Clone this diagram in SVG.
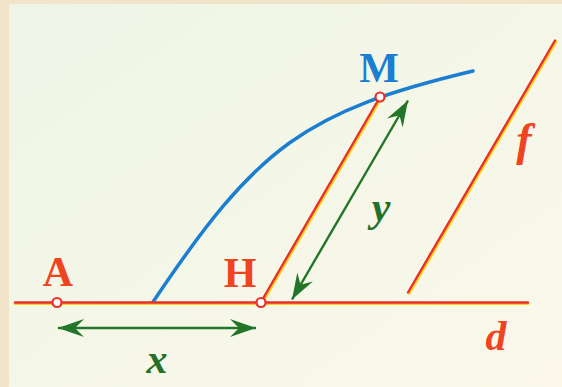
<svg xmlns="http://www.w3.org/2000/svg" width="562" height="387" viewBox="0 0 562 387">
  <defs>
    <linearGradient id="bg" x1="0" y1="0" x2="1" y2="1">
      <stop offset="0" stop-color="#EEF5E6"/>
      <stop offset="1" stop-color="#FBF8EA"/>
    </linearGradient>
    <marker id="ah" viewBox="-28 -10 30 20" markerWidth="30" markerHeight="20" refX="0" refY="0" markerUnits="userSpaceOnUse" orient="auto-start-reverse">
      <path d="M0,0 L-26,-9 L-17,0 L-26,9 Z" fill="#23752A"/>
    </marker>
    <style>
      .red { fill: none; stroke: #E8302A; stroke-width: 2.4; stroke-linecap: round; }
      .yel { fill: none; stroke: #F6D21E; stroke-width: 2.4; stroke-linecap: round; }
      .blue { fill: none; stroke: #1C7ED0; stroke-width: 3.5; stroke-linecap: round; }
      .grn { fill: none; stroke: #23752A; stroke-width: 2.4; }
      .pt { fill: #FFFFFF; stroke: #E8302A; stroke-width: 2.2; }
      .lbl { font-family: "Liberation Serif", "Times New Roman", serif; font-weight: bold; font-size: 42px; text-anchor: middle; }
      .it { font-style: italic; }
      .r { fill: #EE4420; }
      .b { fill: #1C7ED0; }
      .g { fill: #23702A; }
    </style>
  </defs>
  <rect x="0" y="0" width="562" height="387" fill="#F2E4C8"/>
  <rect x="9" y="4" width="553" height="383" fill="url(#bg)"/>

  <g id="curve">
    <path class="blue" d="M153,302 C257.5,146 305.5,111 473,71"/>
  </g>

  <g id="line-d">
    <line class="yel" x1="15" y1="303.8" x2="528" y2="303.8"/>
    <line class="red" x1="15" y1="302.5" x2="528" y2="302.5"/>
    <text class="lbl it r" x="496" y="350">d</text>
  </g>

  <g id="line-f">
    <line class="yel" x1="409.5" y1="293.5" x2="556.5" y2="41.5"/>
    <line class="red" x1="408" y1="292.5" x2="555" y2="40.5"/>
    <text class="lbl it r" x="524" y="155" style="font-size:46px">f</text>
  </g>

  <g id="segment-HM">
    <line class="yel" x1="262.5" y1="303" x2="381.5" y2="98"/>
    <line class="red" x1="261" y1="302" x2="380" y2="97"/>
  </g>

  <g id="connectors">
    <line class="grn" x1="58" y1="328" x2="256" y2="328" marker-start="url(#ah)" marker-end="url(#ah)"/>
    <line class="grn" x1="292" y1="299.5" x2="408" y2="100.5" marker-start="url(#ah)" marker-end="url(#ah)"/>
  </g>

  <g id="point-A">
    <circle class="pt" cx="57" cy="302.5" r="4.5"/>
    <text class="lbl r" x="58" y="286">A</text>
  </g>

  <g id="point-H">
    <circle class="pt" cx="261" cy="302.5" r="4.5"/>
    <text class="lbl r" x="240" y="287">H</text>
  </g>

  <g id="point-M">
    <circle class="pt" cx="380" cy="97" r="4.5"/>
    <text class="lbl b" x="379" y="82">M</text>
  </g>

  <g id="label-x">
    <text class="lbl it g" x="157" y="373">x</text>
  </g>
  <g id="label-y">
    <text class="lbl it g" x="381" y="221">y</text>
  </g>
</svg>
